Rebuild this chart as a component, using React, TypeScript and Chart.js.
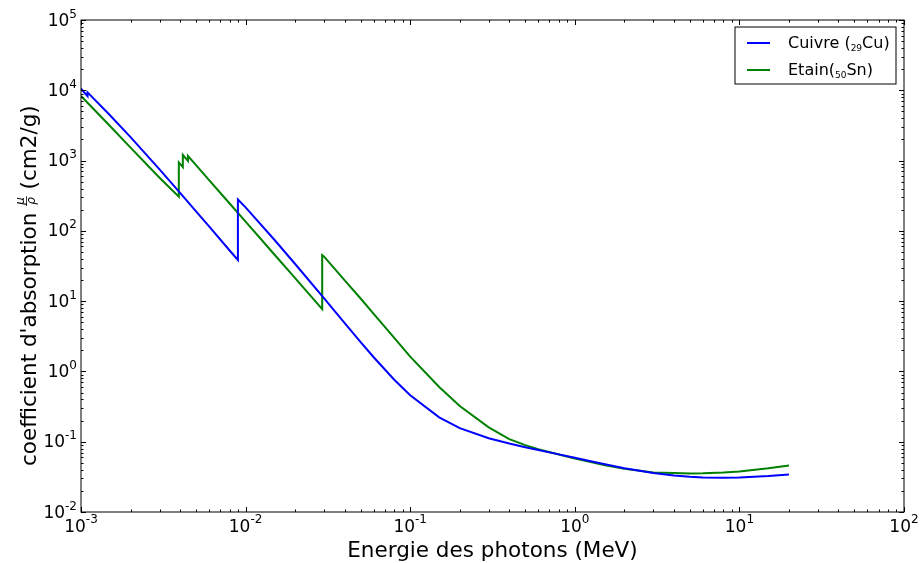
import { useEffect, useRef } from "react";
import { Chart, registerables } from "chart.js";

Chart.register(...registerables);

// Cuivre (29Cu) — energies (MeV) and mass attenuation coefficients (cm2/g)
const cuEnergy = [
  1e-3, 1.04695e-3, 1.0961e-3, 1.0961e-3, 1.5e-3, 2e-3, 3e-3, 4e-3, 5e-3, 6e-3, 8e-3,
  8.9789e-3, 8.9789e-3, 1e-2, 1.5e-2, 2e-2, 3e-2, 4e-2, 5e-2, 6e-2, 8e-2, 0.1, 0.15,
  0.2, 0.3, 0.4, 0.5, 0.6, 0.8, 1, 1.25, 1.5, 2, 3, 4, 5, 6, 8, 10, 15, 20,
];
const cuCoef = [
  10570, 9307, 8242, 9347, 4418, 2154, 748.8, 347.3, 189.9, 115.6, 52.55,
  38.5, 279, 215.9, 74.05, 33.79, 10.92, 4.862, 2.613, 1.593, 0.763, 0.4584, 0.2217,
  0.1559, 0.1119, 0.09413, 0.08362, 0.07625, 0.06605, 0.05901, 0.05261, 0.04803, 0.04205,
  0.03599, 0.03318, 0.03177, 0.03108, 0.03074, 0.03103, 0.03247, 0.03408,
];

// Etain (50Sn)
const snEnergy = [
  1e-3, 1.5e-3, 2e-3, 3e-3, 3.9288e-3, 3.9288e-3, 4e-3, 4.1561e-3, 4.1561e-3, 4.4647e-3,
  4.4647e-3, 5e-3, 6e-3, 8e-3, 1e-2, 1.5e-2, 2e-2, 2.92e-2, 2.92e-2, 3e-2, 4e-2, 5e-2,
  6e-2, 8e-2, 0.1, 0.15, 0.2, 0.3, 0.4, 0.5, 0.6, 0.8, 1, 1.25, 1.5, 2, 3, 4, 5, 6, 8,
  10, 15, 20,
];
const snCoef = [
  8280, 3100, 1530, 570, 306, 944, 900, 811, 1199, 990,
  1161, 859, 528, 245, 135, 45.7, 21.2, 7.7, 45.3, 43.0, 19.8, 10.9,
  6.6, 3.0, 1.62, 0.6, 0.322, 0.16, 0.109, 0.0893, 0.0785, 0.0656, 0.0577, 0.0512, 0.0467,
  0.0413, 0.0366, 0.0358, 0.0354, 0.0355, 0.0364, 0.0378, 0.0418, 0.0458,
];

const xDecades = [-3, -2, -1, 0, 1, 2];
const yDecades = [-2, -1, 0, 1, 2, 3, 4, 5];

const xTitle = "Energie des photons (MeV)";
const yTitleStart = "coefficient d'absorption ";
const yTitleNum = "μ";
const yTitleDen = "ρ";
const yTitleEnd = " (cm2/g)";

const legendEntries = [
  { pre: "Cuivre (", sub: "29", post: "Cu)", color: "#0000ff" },
  { pre: "Etain(", sub: "50", post: "Sn)", color: "#008000" },
];

const FONT = "'DejaVu Sans', sans-serif";

const decorPlugin = {
  id: "decor",
  afterDraw(chart: any) {
    const { ctx, chartArea: a, scales } = chart;
    const xs = scales.x;
    const ys = scales.y;
    ctx.save();
    ctx.strokeStyle = "#000";
    ctx.lineWidth = 1;
    // frame
    ctx.strokeRect(a.left, a.top, a.right - a.left, a.bottom - a.top);
    // ticks
    const major = 5;
    const minor = 2.5;
    ctx.beginPath();
    for (let i = 0; i < xDecades.length; i++) {
      const k = xDecades[i];
      const px = Math.round(xs.getPixelForValue(Math.pow(10, k))) + 0.5;
      ctx.moveTo(px, a.bottom);
      ctx.lineTo(px, a.bottom - major);
      ctx.moveTo(px, a.top);
      ctx.lineTo(px, a.top + major);
      if (i < xDecades.length - 1) {
        for (let m = 2; m <= 9; m++) {
          const p = Math.round(xs.getPixelForValue(m * Math.pow(10, k))) + 0.5;
          ctx.moveTo(p, a.bottom);
          ctx.lineTo(p, a.bottom - minor);
          ctx.moveTo(p, a.top);
          ctx.lineTo(p, a.top + minor);
        }
      }
    }
    for (let i = 0; i < yDecades.length; i++) {
      const k = yDecades[i];
      const py = Math.round(ys.getPixelForValue(Math.pow(10, k))) + 0.5;
      ctx.moveTo(a.left, py);
      ctx.lineTo(a.left + major, py);
      ctx.moveTo(a.right, py);
      ctx.lineTo(a.right - major, py);
      if (i < yDecades.length - 1) {
        for (let m = 2; m <= 9; m++) {
          const p = Math.round(ys.getPixelForValue(m * Math.pow(10, k))) + 0.5;
          ctx.moveTo(a.left, p);
          ctx.lineTo(a.left + minor, p);
          ctx.moveTo(a.right, p);
          ctx.lineTo(a.right - minor, p);
        }
      }
    }
    ctx.stroke();

    // tick labels
    const baseFont = `17px ${FONT}`;
    const expFont = `12px ${FONT}`;
    ctx.fillStyle = "#000";
    ctx.textBaseline = "alphabetic";
    ctx.textAlign = "left";
    for (const k of xDecades) {
      const px = xs.getPixelForValue(Math.pow(10, k));
      ctx.font = baseFont;
      const bw = ctx.measureText("10").width;
      ctx.font = expFont;
      const es = String(k);
      const ew = ctx.measureText(es).width;
      const start = px - (bw + ew) / 2;
      ctx.font = baseFont;
      ctx.fillText("10", start, a.bottom + 20);
      ctx.font = expFont;
      ctx.fillText(es, start + bw, a.bottom + 10.5);
    }
    for (const k of yDecades) {
      const py = ys.getPixelForValue(Math.pow(10, k));
      ctx.font = baseFont;
      const bw = ctx.measureText("10").width;
      ctx.font = expFont;
      const es = String(k);
      const ew = ctx.measureText(es).width;
      const end = a.left - 4;
      ctx.font = baseFont;
      ctx.fillText("10", end - ew - bw, py + 5.5);
      ctx.font = expFont;
      ctx.fillText(es, end - ew, py - 2.5);
    }

    // x title
    ctx.font = `21.5px ${FONT}`;
    ctx.textAlign = "center";
    ctx.fillText(xTitle, (a.left + a.right) / 2, 557);

    // y title (rotated)
    ctx.save();
    ctx.translate(36, 466);
    ctx.rotate(-Math.PI / 2);
    ctx.textAlign = "left";
    ctx.font = `21.5px ${FONT}`;
    const w1 = ctx.measureText(yTitleStart).width;
    ctx.fillText(yTitleStart, 0, 0);
    ctx.font = `italic 12px ${FONT}`;
    const wn = ctx.measureText(yTitleNum).width;
    const wd = ctx.measureText(yTitleDen).width;
    const fw = Math.max(wn, wd) + 2;
    ctx.fillText(yTitleNum, w1 + (fw - wn) / 2, -12);
    ctx.fillText(yTitleDen, w1 + (fw - wd) / 2, -1);
    ctx.beginPath();
    ctx.lineWidth = 0.8;
    ctx.moveTo(w1, -9.5);
    ctx.lineTo(w1 + fw, -9.5);
    ctx.stroke();
    ctx.font = `21.5px ${FONT}`;
    ctx.fillText(yTitleEnd, w1 + fw, 0);
    ctx.restore();

    // legend
    const lx = 735;
    const ly = 27;
    const lw = 161;
    const lh = 57;
    ctx.fillStyle = "#fff";
    ctx.fillRect(lx, ly, lw, lh);
    ctx.strokeStyle = "#000";
    ctx.lineWidth = 1;
    ctx.strokeRect(lx, ly, lw, lh);
    const rows = [43, 70];
    const baselines = [48, 75];
    legendEntries.forEach((e, i) => {
      ctx.strokeStyle = e.color;
      ctx.lineWidth = 2;
      ctx.beginPath();
      ctx.moveTo(747, rows[i]);
      ctx.lineTo(770, rows[i]);
      ctx.stroke();
      ctx.fillStyle = "#000";
      ctx.textAlign = "left";
      let tx = 788;
      ctx.font = `16px ${FONT}`;
      ctx.fillText(e.pre, tx, baselines[i]);
      tx += ctx.measureText(e.pre).width;
      ctx.font = `9px ${FONT}`;
      ctx.fillText(e.sub, tx, baselines[i] + 3);
      tx += ctx.measureText(e.sub).width;
      ctx.font = `16px ${FONT}`;
      ctx.fillText(e.post, tx, baselines[i]);
    });
    ctx.restore();
  },
};

export default function App() {
  const ref = useRef<HTMLCanvasElement | null>(null);
  useEffect(() => {
    if (!ref.current) return;
    const chart = new Chart(ref.current, {
      type: "scatter",
      data: {
        datasets: [
          {
            label: "Cuivre (29Cu)",
            data: cuEnergy.map((e, i) => ({ x: e, y: cuCoef[i] })),
            showLine: true,
            borderColor: "#0000ff",
            backgroundColor: "#0000ff",
            borderWidth: 2,
            pointRadius: 0,
            tension: 0,
            fill: false,
          },
          {
            label: "Etain(50Sn)",
            data: snEnergy.map((e, i) => ({ x: e, y: snCoef[i] })),
            showLine: true,
            borderColor: "#008000",
            backgroundColor: "#008000",
            borderWidth: 2,
            pointRadius: 0,
            tension: 0,
            fill: false,
          },
        ],
      },
      options: {
        responsive: false,
        animation: false,
        devicePixelRatio: 1,
        layout: { padding: { left: 81, top: 20, right: 18, bottom: 51 } },
        plugins: { legend: { display: false }, tooltip: { enabled: false } },
        scales: {
          x: {
            type: "logarithmic",
            min: 1e-3,
            max: 100,
            ticks: { display: false },
            grid: { display: false },
            border: { display: false },
            afterFit: (s: any) => {
              s.height = 0;
            },
          },
          y: {
            type: "logarithmic",
            min: 1e-2,
            max: 1e5,
            ticks: { display: false },
            grid: { display: false },
            border: { display: false },
            afterFit: (s: any) => {
              s.width = 0;
            },
          },
        },
      } as any,
      plugins: [decorPlugin],
    });
    return () => chart.destroy();
  }, []);
  return (
    <div style={{ position: "fixed", left: 0, top: 0, width: 922, height: 563, background: "#fff" }}>
      <canvas ref={ref} width={922} height={563} style={{ display: "block" }} />
    </div>
  );
}
